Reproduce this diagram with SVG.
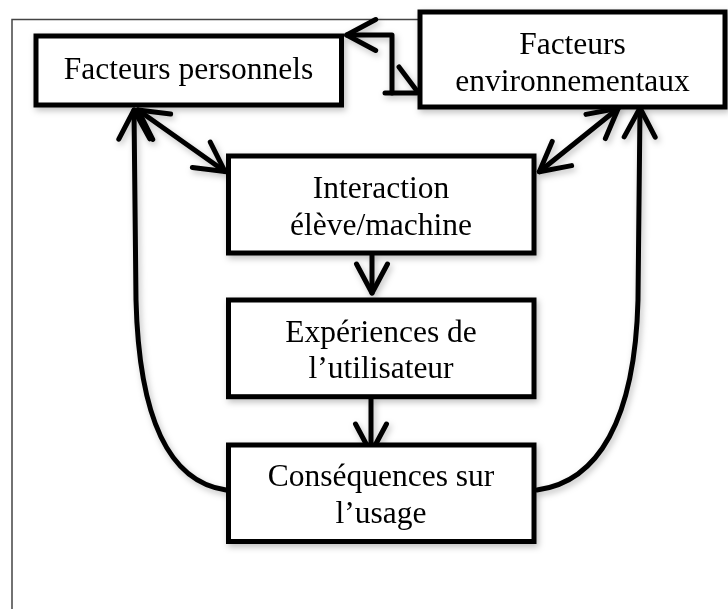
<svg xmlns="http://www.w3.org/2000/svg" width="728" height="609" viewBox="0 0 728 609">
<style>
.box{fill:#fff;stroke:#000;stroke-width:5}
.lbl{font-family:"Liberation Serif","Times New Roman",serif;font-size:31.5px;fill:#000;text-anchor:middle}
.con{fill:none;stroke:#000;stroke-width:5;stroke-linecap:round;stroke-linejoin:round}
</style>
<defs>
<filter id="sh" x="-20%" y="-20%" width="140%" height="140%">
<feDropShadow dx="2" dy="3" stdDeviation="3" flood-color="#000" flood-opacity="0.25"/>
</filter>
<marker id="arr" markerUnits="userSpaceOnUse" refX="0" refY="0" markerWidth="40" markerHeight="40" orient="auto-start-reverse" overflow="visible">
<path d="M -29,-15.5 L 0,0 L -29,15.5" fill="none" stroke="#000" stroke-width="5" stroke-linecap="round" stroke-linejoin="round"/>
</marker>
</defs>
<rect width="728" height="609" fill="#fff"/>
<g id="frame" fill="none" stroke="#444" stroke-width="1.5">
<path d="M 12,609 L 12,19.5 L 420,19.5"/>
</g>
<g id="connectors" class="con" filter="url(#sh)">
<polyline points="346.7,35 392,35 392,93" marker-start="url(#arr)"/>
<line x1="385" y1="93" x2="417" y2="93"/>
<line x1="399" y1="67" x2="417" y2="91"/>
<line x1="138" y1="110" x2="225" y2="171.5" marker-start="url(#arr)" marker-end="url(#arr)"/>
<line x1="618.3" y1="108.3" x2="539.3" y2="171.7" marker-start="url(#arr)" marker-end="url(#arr)"/>
<line x1="372" y1="255" x2="372" y2="293" marker-end="url(#arr)"/>
<line x1="371" y1="399" x2="371" y2="453" marker-end="url(#arr)"/>
<path d="M 226,490 C 170,482 139,420 136,300 L 134,110" marker-end="url(#arr)"/>
<path d="M 537,490 C 598,482 635,420 638,300 L 640,108" marker-end="url(#arr)"/>
</g>
<g id="facteurs-personnels" filter="url(#sh)">
<rect class="box" x="36" y="36" width="305.5" height="69"/>
<text class="lbl" x="188.5" y="79">Facteurs personnels</text>
</g>
<g id="facteurs-environnementaux" filter="url(#sh)">
<rect class="box" x="420" y="12" width="305" height="95"/>
<text class="lbl" x="572.5" y="54">Facteurs</text>
<text class="lbl" x="572.5" y="90.7">environnementaux</text>
</g>
<g id="interaction" filter="url(#sh)">
<rect class="box" x="228.5" y="156" width="305.5" height="97"/>
<text class="lbl" x="381" y="198">Interaction</text>
<text class="lbl" x="381" y="235">élève/machine</text>
</g>
<g id="experiences" filter="url(#sh)">
<rect class="box" x="228.5" y="300" width="305.5" height="96.7"/>
<text class="lbl" x="381" y="341.7">Expériences de</text>
<text class="lbl" x="381" y="378.3">l’utilisateur</text>
</g>
<g id="consequences" filter="url(#sh)">
<rect class="box" x="228.5" y="445" width="305.5" height="96.5"/>
<text class="lbl" x="381" y="486">Conséquences sur</text>
<text class="lbl" x="381" y="522.7">l’usage</text>
</g>
</svg>
